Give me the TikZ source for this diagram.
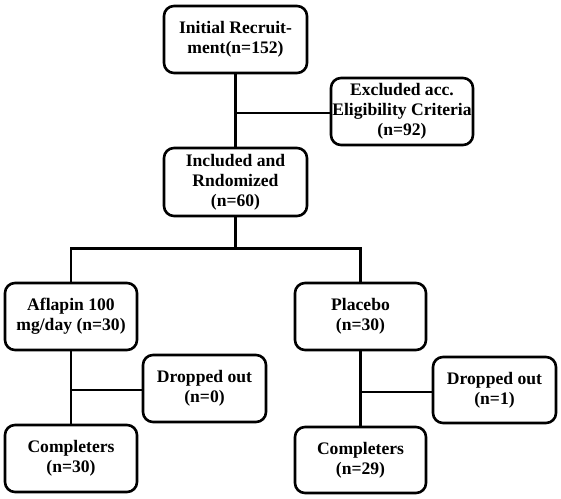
\documentclass[tikz,border=0pt]{standalone}
\usepackage{fontspec}
\setmainfont{Liberation Serif}
\begin{document}
\begin{tikzpicture}[x=1pt,y=-1pt,font=\fontsize{17.6}{20}\selectfont\bfseries,
		blk/.style={draw,line width=2.6pt,rounded corners=10pt,align=center,inner sep=1pt,minimum height=67pt},
		link/.style={line width=2.8pt}]
				\useasboundingbox (0,0) rectangle (561,498);
				\node[blk,minimum width=143pt] (init) at (235.5,39.5) {Initial Recruit-\\ment(n=152)};
				\node[blk,minimum width=142pt] (excl) at (402,111.5) {Excluded acc.\\Eligibility Criteria\\(n=92)};
				\node[blk,minimum width=143pt,minimum height=68pt] (incl) at (235.5,182) {Included and\\Rndomized\\(n=60)};
				\node[blk,minimum width=132pt] (afl) at (71,316.5) {Aflapin 100\\mg/day (n=30)};
				\node[blk,minimum width=131pt] (plc) at (360.5,316.5) {Placebo\\(n=30)};
				\node[blk,minimum width=123pt] (drop1) at (204.5,388.5) {Dropped out\\(n=0)};
				\node[blk,minimum width=123pt,minimum height=66pt] (drop2) at (494.5,390) {Dropped out\\(n=1)};
				\node[blk,minimum width=132pt] (comp1) at (71,458.5) {Completers\\(n=30)};
				\node[blk,minimum width=131pt,minimum height=66pt] (comp2) at (360.5,460) {Completers\\(n=29)};
				\path (235.5,113) coordinate (j1)
				(235.5,248.5) coordinate (j2)
				(71,248.5) coordinate (ja)
				(360.5,248.5) coordinate (jb)
				(71,390) coordinate (j3)
				(360.5,392) coordinate (j4)
				;
				\foreach \a/\b in {init.south/incl.north,incl.south/j2,afl.south/comp1.north,plc.south/comp2.north}{\draw[link] (\a)--(\b);}
				\foreach \a/\b in {j1/excl,j3/drop1,j4/drop2}{\draw[link] (\a)--(\a-|\b.west);}
				\draw[link] (afl.north)--(ja)--(jb)--(plc.north);
		\end{tikzpicture}
\end{document}
